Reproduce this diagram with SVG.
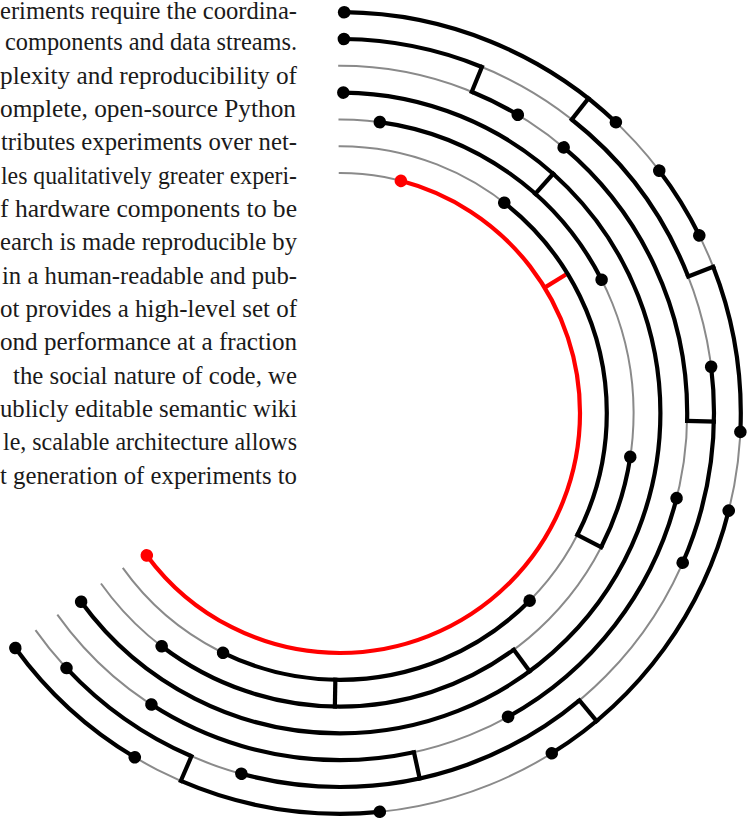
<svg xmlns="http://www.w3.org/2000/svg" width="752" height="823" viewBox="0 0 752 823">
<style>
.t{font-family:"Liberation Serif","Times New Roman",serif;font-size:26px;fill:#1a1a1a}
.g{fill:none;stroke:#8a8a8a;stroke-width:2}
.b{fill:none;stroke:#000;stroke-width:4.2}
.r{fill:none;stroke:#f00;stroke-width:4.2}
.c{stroke:#000;stroke-width:4.2;stroke-linecap:square}
.rc{stroke:#f00;stroke-width:4.2}
.d{fill:#000}
.rd{fill:#f00}
</style>
<g id="text">
<text class="t" x="0" y="18.5" textLength="297" lengthAdjust="spacingAndGlyphs">eriments require the coordina-</text>
<text class="t" x="5" y="50.3" textLength="292" lengthAdjust="spacingAndGlyphs">components and data streams.</text>
<text class="t" x="0" y="83.7" textLength="297" lengthAdjust="spacingAndGlyphs">plexity and reproducibility of</text>
<text class="t" x="0" y="117" textLength="296" lengthAdjust="spacingAndGlyphs">omplete, open-source Python</text>
<text class="t" x="1" y="150.3" textLength="296" lengthAdjust="spacingAndGlyphs">tributes experiments over net-</text>
<text class="t" x="1" y="183.7" textLength="296" lengthAdjust="spacingAndGlyphs">les qualitatively greater experi-</text>
<text class="t" x="0" y="217" textLength="297" lengthAdjust="spacingAndGlyphs">f hardware components to be</text>
<text class="t" x="0" y="250.3" textLength="297" lengthAdjust="spacingAndGlyphs">earch is made reproducible by</text>
<text class="t" x="2" y="283.7" textLength="295" lengthAdjust="spacingAndGlyphs">in a human-readable and pub-</text>
<text class="t" x="0" y="317" textLength="297" lengthAdjust="spacingAndGlyphs">ot provides a high-level set of</text>
<text class="t" x="0" y="350.3" textLength="297" lengthAdjust="spacingAndGlyphs">ond performance at a fraction</text>
<text class="t" x="13" y="383.7" textLength="284" lengthAdjust="spacingAndGlyphs">the social nature of code, we</text>
<text class="t" x="0" y="417" textLength="297" lengthAdjust="spacingAndGlyphs">ublicly editable semantic wiki</text>
<text class="t" x="3" y="450.3" textLength="294" lengthAdjust="spacingAndGlyphs">le, scalable architecture allows</text>
<text class="t" x="0" y="483.7" textLength="297" lengthAdjust="spacingAndGlyphs">t generation of experiments to</text>
</g>
<g transform="translate(340 413)">
<g id="base">
<circle class="g" r="240" pathLength="360" transform="rotate(-90.3)" stroke-dasharray="234.8 500"/>
<circle class="g" r="266.8" pathLength="360" transform="rotate(-90.3)" stroke-dasharray="234.8 500"/>
<circle class="g" r="293.6" pathLength="360" transform="rotate(-90.3)" stroke-dasharray="234.8 500"/>
<circle class="g" r="320.4" pathLength="360" transform="rotate(-90.3)" stroke-dasharray="234.8 500"/>
<circle class="g" r="347.2" pathLength="360" transform="rotate(-90.3)" stroke-dasharray="234.8 500"/>
<circle class="g" r="374" pathLength="360" transform="rotate(-90.3)" stroke-dasharray="234.8 500"/>
<circle class="g" r="400.8" pathLength="360" transform="rotate(-90.3)" stroke-dasharray="234.8 500"/>
</g>
<line class="rc" y1="-240" y2="-265" transform="rotate(58.5)"/>
<g id="connectors">
<line class="c" y1="-374" y2="-347.2" transform="rotate(22.3)"/>
<line class="c" y1="-400.8" y2="-374" transform="rotate(38.3)"/>
<line class="c" y1="-320.4" y2="-293.6" transform="rotate(41.7)"/>
<line class="c" y1="-374" y2="-400.8" transform="rotate(68.6)"/>
<line class="c" y1="-347.2" y2="-374" transform="rotate(91.3)"/>
<line class="c" y1="-266.8" y2="-293.6" transform="rotate(117.2)"/>
<line class="c" y1="-374" y2="-400.8" transform="rotate(140.2)"/>
<line class="c" y1="-293.6" y2="-320.4" transform="rotate(143.7)"/>
<line class="c" y1="-347.2" y2="-374" transform="rotate(167.7)"/>
<line class="c" y1="-266.8" y2="-293.6" transform="rotate(181)"/>
<line class="c" y1="-374" y2="-400.8" transform="rotate(203.4)"/>
</g>
<g id="ring0">
<circle class="r" r="240" pathLength="360" transform="rotate(-90)" stroke-dasharray="0 14.7 218.9 500"/>
<circle class="rd" r="6.3" cy="-240" transform="rotate(14.7)"/>
<circle class="rd" r="6.3" cy="-240" transform="rotate(233.6)"/>
</g>
<g id="ring1">
<circle class="b" r="266.8" pathLength="360" transform="rotate(-90)" stroke-dasharray="0 38 79.2 17.5 71.3 500"/>
<circle class="d" r="6.3" cy="-266.8" transform="rotate(38)"/>
<circle class="d" r="6.3" cy="-266.8" transform="rotate(134.7)"/>
<circle class="d" r="6.3" cy="-266.8" transform="rotate(206)"/>
</g>
<g id="ring2">
<circle class="b" r="293.6" pathLength="360" transform="rotate(-90)" stroke-dasharray="0 7.8 55.2 35.6 18.6 26.5 73.7 500"/>
<circle class="d" r="6.3" cy="-293.6" transform="rotate(7.8)"/>
<circle class="d" r="6.3" cy="-293.6" transform="rotate(63)"/>
<circle class="d" r="6.3" cy="-293.6" transform="rotate(98.6)"/>
<circle class="d" r="6.3" cy="-293.6" transform="rotate(217.4)"/>
</g>
<g id="ring3">
<circle class="b" r="320.4" pathLength="360" transform="rotate(-90)" stroke-dasharray="0 0.6 233.3 500"/>
<circle class="d" r="6.3" cy="-320.4" transform="rotate(0.6)"/>
<circle class="d" r="6.3" cy="-320.4" transform="rotate(233.9)"/>
</g>
<g id="ring4">
<circle class="b" r="347.2" pathLength="360" transform="rotate(-90)" stroke-dasharray="0 22.3 8.5 9.3 51.2 12.9 46.85 16.65 45.2 500"/>
<circle class="d" r="6.3" cy="-347.2" transform="rotate(30.8)"/>
<circle class="d" r="6.3" cy="-347.2" transform="rotate(40.1)"/>
<circle class="d" r="6.3" cy="-347.2" transform="rotate(104.2)"/>
<circle class="d" r="6.3" cy="-347.2" transform="rotate(151.05)"/>
<circle class="d" r="6.3" cy="-347.2" transform="rotate(212.9)"/>
</g>
<g id="ring5">
<circle class="b" r="374" pathLength="360" transform="rotate(-90)" stroke-dasharray="0 0.6 21.7 16 30.3 14.3 30.7 26.6 55.1 8.1 23.6 500"/>
<circle class="d" r="6.3" cy="-374" transform="rotate(0.6)"/>
<circle class="d" r="6.3" cy="-374" transform="rotate(82.9)"/>
<circle class="d" r="6.3" cy="-374" transform="rotate(113.6)"/>
<circle class="d" r="6.3" cy="-374" transform="rotate(195.3)"/>
<circle class="d" r="6.3" cy="-374" transform="rotate(227)"/>
</g>
<g id="ring6">
<circle class="b" r="400.8" pathLength="360" transform="rotate(-90)" stroke-dasharray="0 0.6 42.9 9.3 10.9 4.9 24.1 11.4 44 26.2 29.1 7.4 23.3 500"/>
<circle class="d" r="6.3" cy="-400.8" transform="rotate(0.6)"/>
<circle class="d" r="6.3" cy="-400.8" transform="rotate(43.5)"/>
<circle class="d" r="6.3" cy="-400.8" transform="rotate(52.8)"/>
<circle class="d" r="6.3" cy="-400.8" transform="rotate(63.7)"/>
<circle class="d" r="6.3" cy="-400.8" transform="rotate(92.7)"/>
<circle class="d" r="6.3" cy="-400.8" transform="rotate(104.1)"/>
<circle class="d" r="6.3" cy="-400.8" transform="rotate(148.1)"/>
<circle class="d" r="6.3" cy="-400.8" transform="rotate(174.3)"/>
<circle class="d" r="6.3" cy="-400.8" transform="rotate(210.8)"/>
<circle class="d" r="6.3" cy="-400.8" transform="rotate(234.1)"/>
</g>
</g>
</svg>
